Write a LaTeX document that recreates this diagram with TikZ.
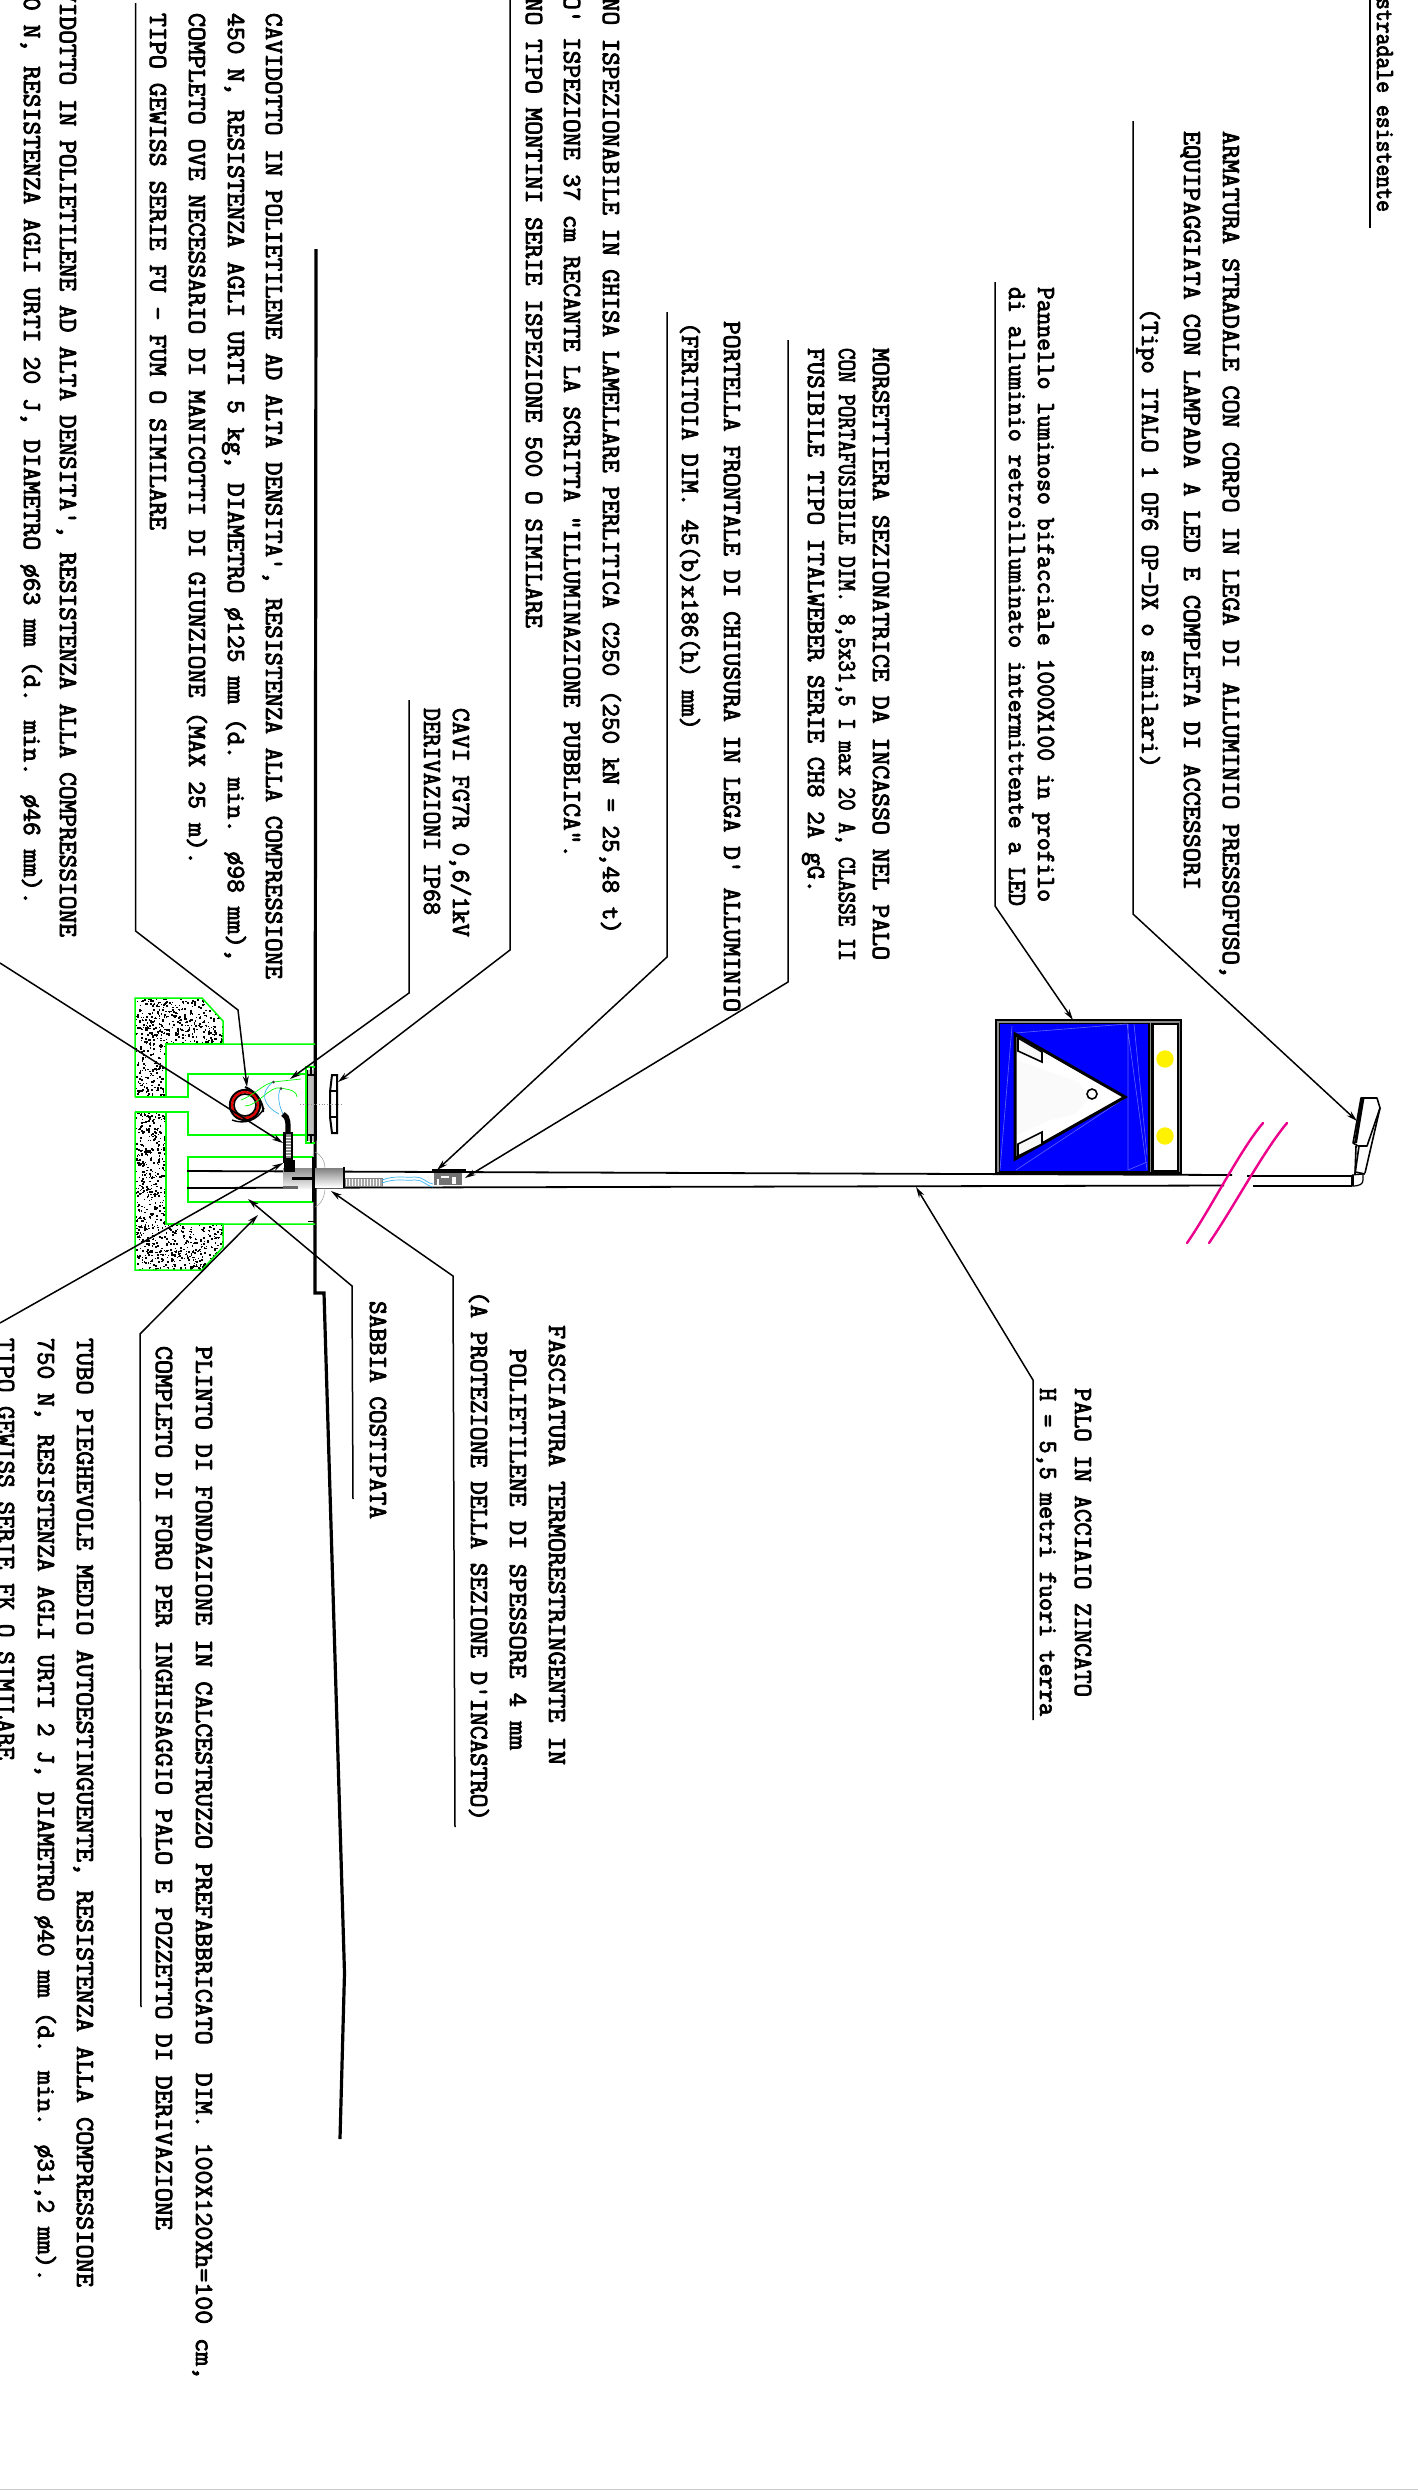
\documentclass[tikz,border=0pt]{standalone}
\usepackage{fontspec}
\newfontfamily\cadfont[AutoFakeBold=3.2]{Latin Modern Mono}
\usetikzlibrary{arrows.meta}
\usepackage{graphicx}
\definecolor{cgreen}{RGB}{0,255,0}
\definecolor{cpanel}{RGB}{0,0,255}
\definecolor{ccyan}{RGB}{60,180,240}
\newcommand{\tl}[5]{%
  \pgfmathparse{(#4-#3)*0.5}\let\tlL\pgfmathresult
  \pgfmathparse{#2-8}\let\tlX\pgfmathresult
  \node[lbl] (#1) at (\tlX,#3) {\resizebox{\tlL pt}{\height}{\strut #5}};}
\tikzset{
  lbl/.style={rotate=-90,anchor=base west,inner sep=0pt,outer sep=0pt,font=\fontsize{13}{15}\selectfont\cadfont\bfseries,text=black},
  leader/.style={draw=black,line width=0.75pt,-{Stealth[length=5.5pt,width=3pt]}},
  plain/.style={draw=black,line width=0.75pt},
  ground/.style={draw=black,line width=1.6pt},
  gline/.style={draw=cgreen,line width=0.75pt},
  pole/.style={draw=black,line width=0.9pt},
  wire/.style={draw=ccyan,line width=0.35pt},
  wireg/.style={draw=cgreen,line width=0.35pt},
  faint/.style={draw=blue!62!white,line width=0.3pt},
  slash/.style={draw=magenta,line width=1.2pt,line cap=round},
  mk/.style={draw=black,line width=1pt,line join=round},
}
\begin{document}
\begin{tikzpicture}[x=0.5pt,y=-0.5pt]
\useasboundingbox (0,0) rectangle (1418,2490);
\fill[white] (0,0) rectangle (1418,2490);
\fill[black!20] (0,2488.5) rectangle (1418,2490);

% ---------- ground profile
\coordinate (g0) at (316,249); \coordinate (g1) at (315,1293); \coordinate (g2) at (324,1293);
\coordinate (g3) at (344.5,1973); \coordinate (g4) at (340,2139);
\draw[ground] (g0)--(g1)--(g2)--(g3)--(g4);

% ---------- foundation block
\begin{scope}
\clip (135,998)--(202,998)--(223,1021)--(223,1044)--(166,1044)--(166,1097)--(135,1097)--cycle
      (135,1112)--(166,1112)--(166,1224)--(223,1224)--(223,1247)--(202,1270)--(135,1270)--cycle;
\pgfmathsetseed{4242}
\foreach \i in {1,...,2300}{
  \pgfmathsetmacro{\px}{135+rnd*88}
  \pgfmathsetmacro{\py}{998+rnd*272}
  \pgfmathsetmacro{\ps}{1+rnd*1.1}
  \fill[black] (\px,\py) rectangle ++(\ps,\ps);
}
\end{scope}
\draw[gline] (135,1097)--(135,998)--(202,998)--(223,1021)--(223,1044)--(315,1044);
\draw[gline] (223,1044)--(166,1044)--(166,1097)--(135,1097);
\draw[gline] (166,1097)--(188,1097)--(188,1074)--(306,1074);
\draw[gline] (315,1067)--(306,1067)--(306,1143)--(315,1143);
\draw[gline] (135,1112)--(166,1112)--(188,1112)--(188,1135)--(306,1135);
\draw[gline] (135,1112)--(135,1270)--(202,1270)--(223,1247)--(223,1224)--(315,1224);
\draw[gline] (166,1112)--(166,1224)--(223,1224);
\draw[gline] (313,1157)--(188,1157)--(188,1202)--(313,1202);

% ---------- pole
\draw[pole] (187,1171)--(1232,1175);
\draw[pole] (187,1188)--(1224,1185.5);
\draw[pole] (1247,1176)--(1352,1176);
\draw[pole] (1253,1186)--(1352,1186);
\draw[black,line width=1.5pt] (1352,1175)--(1352,1186);
\draw[black,line width=0.6pt] (1352,1175)--(1363,1174)--(1363,1180) .. controls (1363,1184) and (1360,1186) .. (1352,1186);

% lamp head
\draw[mk,line width=0.8pt,fill=white] (1355,1174)--(1359,1146)--(1367,1146)--(1380,1108)--(1377,1098)--(1361,1098)--(1353,1143)--(1358,1146);
\draw[black,line width=0.8pt] (1355,1174)--(1356,1146) (1365,1173)--(1380,1108) (1355,1172)--(1365,1174);
\fill[black] (1361,1098)--(1364.5,1098)--(1357,1143)--(1354,1143)--cycle;

% break marks
\draw[slash] (1263,1123) .. controls (1240,1150) and (1210,1210) .. (1187,1243);
\draw[slash] (1287,1123) .. controls (1264,1150) and (1232,1210) .. (1209,1243);

% ---------- sign panel
\fill[black!45] (996,1020) rectangle (1181,1173);
\draw[black,line width=0.7pt] (996,1020) rectangle (1181,1173);
\fill[black] (998.5,1022.5) rectangle (1149.5,1172);
\fill[cpanel] (999.5,1023.5) rectangle (1148,1171);
\fill[black] (1151,1022.5) rectangle (1179,1171.5);
\fill[white] (1153.5,1024.5) rectangle (1177,1170);
\fill[yellow] (1165,1059) circle (8.7);
\fill[yellow] (1165,1136) circle (8.7);
\draw[faint] (1015,1033)--(1127,1024) (1127,1024)--(1147,1170) (1128,1024)--(1128,1170) (1134,1024)--(1147,1155);
\draw[faint] (1012,1026)--(1000,1170) (1016,1170)--(1125,1098) (1128,1170)--(1147,1162);
\draw[black,line width=1.5pt,fill=white,line join=miter] (1015,1034)--(1125,1097)--(1015,1159)--cycle;
\fill[black!2] (1017,1060)--(1050,1072)--(1078,1082)--(1090,1098)--(1075,1114)--(1050,1120)--(1017,1135)--cycle;
\draw[black,line width=0.8pt,fill=white!97!black] (1018,1038)--(1042,1052)--(1042,1062)--(1018,1051)--cycle;
\draw[black,line width=0.8pt,fill=white!97!black] (1018,1144)--(1042,1132)--(1042,1144)--(1018,1156)--cycle;
\draw[black,line width=0.8pt,fill=white] (1092,1094) circle (5);

% ---------- base of pole / sleeve
\shade[top color=black!45,bottom color=black!5] (283,1168) rectangle (313,1188);
\shade[top color=black!50,bottom color=white] (315,1168) rectangle (343,1187);
\fill[black!60] (283,1186) rectangle (298,1189);
\draw[black,line width=1.3pt] (344,1167)--(344,1188);
\draw[black,line width=1.3pt] (292,1178.5)--(313,1178.5);
\draw[black,line width=1.3pt] (313,1157)--(313,1202);
\fill[black] (308,1220.5) rectangle (315,1221.5);
\draw[black!40,line width=0.25pt] (315,1152) .. controls (322,1155) and (325,1162) .. (325,1168);
\draw[black!40,line width=0.25pt] (315,1207) .. controls (322,1204) and (325,1195) .. (325,1188);
% corrugated sheath
\fill[black!35] (345,1178) rectangle (382,1186);
\foreach \sx in {346,349,...,381}{\draw[white,line width=0.3pt] (\sx,1178.5)--(\sx,1185.5);}
\draw[black!50,line width=0.3pt] (345,1178) rectangle (382,1186);
% cables in pole
\draw[wire] (382,1180) .. controls (395,1175) and (405,1178) .. (415,1177) .. controls (422,1176) and (428,1184) .. (433,1184);
\draw[wire] (382,1183) .. controls (395,1178) and (405,1181) .. (415,1180) .. controls (422,1179) and (428,1187) .. (433,1187);
% terminal block
\fill[black!55] (434,1173) rectangle (462,1185);
\fill[white] (441,1176) rectangle (449,1178);
\fill[white] (452,1177) rectangle (456,1184);
\fill[white] (437,1179) rectangle (439,1185);
\draw[black,line width=1.5pt] (432,1170.5)--(466,1170.5);

% ---------- inspection frame
\fill[black!25] (307,1070) rectangle (313,1141);
\draw[black,line width=0.4pt] (307,1070)--(307,1141);
\draw[black,line width=1pt] (308,1074.5)--(315,1074.5) (310.5,1067)--(310.5,1074.5);
\draw[black,line width=1pt] (308,1135)--(315,1135) (310.5,1135)--(310.5,1143);
% cover
\draw[black,line width=1pt,fill=white,line join=miter] (332,1075)--(337,1075)--(337,1133)--(332,1133)--(330,1117)--(330,1092)--cycle;
\draw[black,line width=0.6pt] (330,1091)--(337,1091) (330,1117)--(337,1117);
\draw[black!45,line width=0.35pt,densely dotted] (300,1104)--(342,1104);

% ---------- cable and duct inside well
\draw[black,line width=1pt] (245,1087) .. controls (258,1092) and (264,1105) .. (263,1112);
\draw[black,line width=0.7pt] (232,1120) .. controls (245,1125) and (258,1120) .. (264,1108);
\draw[black,line width=1.1pt] (245,1105) circle (15);
\draw[red!90!black,line width=1.2pt] (245,1105) circle (13);
\draw[black,line width=0.8pt,fill=white] (245,1105) circle (11);
\draw[wireg] (241,1100) .. controls (256,1094) and (262,1085) .. (273,1082) -- (301,1079);
\draw[wireg] (245,1106) .. controls (258,1106) and (270,1085) .. (281,1088) .. controls (290,1090) and (296,1090) .. (297,1097);
\draw[wire] (273,1082) .. controls (260,1092) and (262,1105) .. (279,1114);
\draw[wire] (281,1088) .. controls (276,1095) and (280,1108) .. (283,1114);
\fill[black!75] (273.5,1082) circle (1.5) (281,1088.5) circle (1.5);
\draw[black,line width=2.6pt] (283,1114) .. controls (289,1117) and (288,1125) .. (288,1132);
\fill[black] (283,1132) rectangle (293,1163);
\fill[black] (284,1160) rectangle (295,1172);
\fill[black!45] (286,1134) rectangle (291,1158);
\foreach \sy in {1137,1140,...,1157}{\draw[white,line width=0.25pt] (286,\sy)--(291,\sy);}

% ---------- labels and leaders
\coordinate (s1) at (1133,121); \coordinate (s1b) at (1133,914); \coordinate (t1) at (1357,1121);
\draw[leader] (s1)--(s1b)--(t1);
\tl{a1}{1231}{131}{979}{ARMATURA STRADALE CON CORPO IN LEGA DI ALLUMINIO PRESSOFUSO,}
\tl{a2}{1192}{131}{890}{EQUIPAGGIATA CON LAMPADA A LED E COMPLETA DI ACCESSORI}
\tl{a3}{1150}{308}{768}{(Tipo ITALO 1 OF6 OP-DX o similari)}

\coordinate (s0) at (1370,0); \coordinate (s0b) at (1370,228);
\draw[plain] (s0)--(s0b);
\tl{a0}{1385}{-2}{212}{stradale esistente}

\coordinate (s2) at (995,282); \coordinate (s2b) at (995,906); \coordinate (t2) at (1073,1020);
\draw[leader] (s2)--(s2b)--(t2);
\tl{b1}{1046}{287}{902}{Pannello luminoso bifacciale 1000X100 in profilo}
\tl{b2}{1017}{287}{906}{di alluminio retroilluminato intermittente a LED}

\coordinate (s3) at (788,340); \coordinate (s3b) at (788,982); \coordinate (t3) at (465,1178);
\draw[leader] (s3)--(s3b)--(t3);
\tl{c1}{881}{348}{960}{MORSETTIERA SEZIONATRICE DA INCASSO NEL PALO}
\tl{c2}{847}{348}{961}{CON PORTAFUSIBILE DIM. 8,5x31,5 I max 20 A, CLASSE II}
\tl{c3}{816}{348}{893}{FUSIBILE TIPO ITALWEBER SERIE CH8 2A gG.}

\coordinate (s4) at (667,312); \coordinate (s4b) at (667,957); \coordinate (t4) at (437,1170);
\draw[leader] (s4)--(s4b)--(t4);
\tl{d1}{732}{321}{1012}{PORTELLA FRONTALE DI CHIUSURA IN LEGA D' ALLUMINIO}
\tl{d2}{690}{322}{730}{(FERITOIA DIM. 45(b)x186(h) mm)}

\coordinate (s5) at (510,0); \coordinate (s5b) at (510,950); \coordinate (t5) at (338,1082);
\draw[leader] (s5)--(s5b)--(t5);
\tl{e1}{611}{-2}{934}{NO ISPEZIONABILE IN GHISA LAMELLARE PERLITICA C250 (250 kN = 25,48 t)}
\tl{e2}{572}{-4}{858}{O' ISPEZIONE 37 cm RECANTE LA SCRITTA "ILLUMINAZIONE PUBBLICA".}
\tl{e3}{534}{-2}{628}{NO TIPO MONTINI SERIE ISPEZIONE 500 O SIMILARE}

\coordinate (s6) at (409,700); \coordinate (s6b) at (409,993); \coordinate (t6) at (290,1079);
\draw[leader] (s6)--(s6b)--(t6);
\tl{f1}{461}{708}{937}{CAVI FG7R 0,6/1kV}
\tl{f2}{432}{708}{915}{DERIVAZIONI IP68}

\coordinate (s7) at (135.6,3); \coordinate (s7b) at (135.6,931); \coordinate (s7c) at (238,1010); \coordinate (t7) at (247,1087);
\draw[leader] (s7)--(s7b)--(s7c)--(t7);
\tl{g1}{274}{13}{979}{CAVIDOTTO IN POLIETILENE AD ALTA DENSITA', RESISTENZA ALLA COMPRESSIONE}
\tl{g2}{236}{13}{962}{450 N, RESISTENZA AGLI URTI 5 kg, DIAMETRO ø125 mm (d. min. ø98 mm),}
\tl{g3}{197}{13}{865}{COMPLETO OVE NECESSARIO DI MANICOTTI DI GIUNZIONE (MAX 25 m).}
\tl{g4}{158}{13}{530}{TIPO GEWISS SERIE FU - FUM O SIMILARE}

\coordinate (s8) at (0,963); \coordinate (t8) at (283,1143);
\draw[leader] (s8)--(t8);
\tl{h1}{68}{-11}{937}{VIDOTTO IN POLIETILENE AD ALTA DENSITA', RESISTENZA ALLA COMPRESSIONE}
\tl{h2}{32}{-3}{905}{0 N, RESISTENZA AGLI URTI 20 J, DIAMETRO ø63 mm (d. min. ø46 mm).}

\coordinate (s9) at (0,1323); \coordinate (t9) at (283,1163);
\draw[leader] (s9)--(t9);
\tl{i1}{85}{1338}{2287}{TUBO PIEGHEVOLE MEDIO AUTOESTINGUENTE, RESISTENZA ALLA COMPRESSIONE}
\tl{i2}{46}{1338}{2282}{750 N, RESISTENZA AGLI URTI 2 J, DIAMETRO ø40 mm (d. min. ø31,2 mm).}
\tl{i3}{6}{1338}{1760}{TIPO GEWISS SERIE FK O SIMILARE}

\coordinate (s10) at (141,2007); \coordinate (s10b) at (140,1334); \coordinate (t10) at (258,1215);
\draw[leader] (s10)--(s10b)--(t10);
\tl{j1}{204}{1346}{2380}{PLINTO DI FONDAZIONE IN CALCESTRUZZO PREFABBRICATO\ \ DIM. 100X120Xh=100 cm,}
\tl{j2}{164}{1346}{2230}{COMPLETO DI FORO PER INGHISAGGIO PALO E POZZETTO DI DERIVAZIONE}

\coordinate (s11) at (353,1499); \coordinate (s11b) at (352,1286); \coordinate (t11) at (248,1199);
\draw[leader] (s11)--(s11b)--(t11);
\tl{k1}{378}{1301}{1519}{SABBIA COSTIPATA}

\coordinate (s12) at (455,1827); \coordinate (s12b) at (453,1276); \coordinate (t12) at (331,1191);
\draw[leader] (s12)--(s12b)--(t12);
\tl{l1}{557}{1325}{1765}{FASCIATURA TERMORESTRINGENTE IN}
\tl{l2}{518}{1349}{1750}{POLIETILENE DI SPESSORE 4 mm}
\tl{l3}{479}{1291}{1821}{(A PROTEZIONE DELLA SEZIONE D'INCASTRO)}

\coordinate (s13) at (1033,1720); \coordinate (s13b) at (1033,1380); \coordinate (t13) at (916,1187);
\draw[leader] (s13)--(s13b)--(t13);
\tl{m1}{1083}{1388}{1697}{PALO IN ACCIAIO ZINCATO}
\tl{m2}{1048}{1388}{1716}{H = 5,5 metri fuori terra}
\end{tikzpicture}
\end{document}
